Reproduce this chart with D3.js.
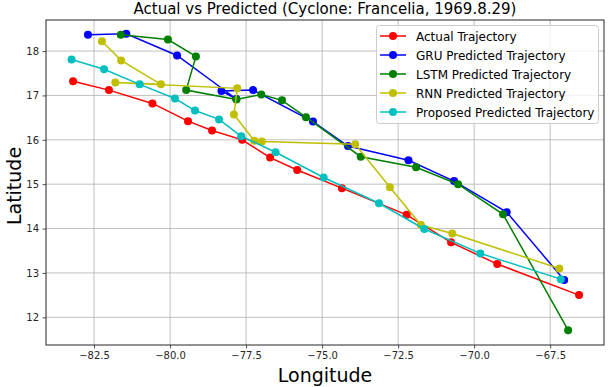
<!DOCTYPE html>
<html><head><meta charset="utf-8">
<script src="https://cdn.jsdelivr.net/npm/d3@7"></script>
<style>body{margin:0;background:#fff;} text{font-family:"DejaVu Sans",sans-serif;}</style>
</head><body><svg id="c" width="609" height="387"></svg>
<script>
const actualLon = [-83.19,-82.01,-80.58,-79.41,-78.62,-77.63,-76.71,-75.82,-74.35,-72.22,-70.76,-69.24,-66.55];
const actualLat = [17.32,17.12,16.82,16.42,16.21,16.00,15.60,15.32,14.91,14.31,13.69,13.20,12.50];
const gruLon = [-82.70,-81.44,-79.77,-77.82,-78.31,-77.27,-75.30,-74.15,-72.16,-70.66,-68.93,-67.04];
const gruLat = [18.37,18.39,17.90,16.92,17.10,17.12,16.41,15.86,15.54,15.07,14.37,12.84];
const lstmLon = [-81.62,-80.07,-79.15,-79.47,-77.82,-77.00,-76.32,-75.53,-73.73,-71.91,-70.53,-69.05,-66.91];
const lstmLat = [18.37,18.26,17.88,17.12,16.91,17.02,16.89,16.51,15.62,15.38,15.00,14.32,11.71];
const rnnLon = [-82.24,-81.61,-80.30,-81.80,-77.79,-77.90,-77.23,-76.98,-73.91,-72.77,-71.75,-70.72,-67.20];
const rnnLat = [18.22,17.79,17.25,17.29,17.16,16.57,15.98,15.96,15.90,14.93,14.08,13.89,13.10];
const propLon = [-83.24,-82.17,-81.00,-79.84,-79.18,-78.39,-77.66,-76.53,-74.95,-73.13,-71.64,-69.80,-67.15];
const propLat = [17.81,17.59,17.25,16.93,16.66,16.46,16.08,15.72,15.15,14.57,13.99,13.44,12.86];
const xTicks = [-82.5,-80.0,-77.5,-75.0,-72.5,-70.0,-67.5];
const yTicks = [12,13,14,15,16,17,18];
const seriesNames = ["Actual Trajectory","GRU Predicted Trajectory","LSTM Predicted Trajectory","RNN Predicted Trajectory","Proposed Predicted Trajectory"];
const colors = ["#ff0000","#0000ff","#008000","#bfbf00","#00bfbf"];
const title = "Actual vs Predicted (Cyclone: Francelia, 1969.8.29)";

const series = [[actualLon,actualLat],[gruLon,gruLat],[lstmLon,lstmLat],[rnnLon,rnnLat],[propLon,propLat]];

const L=46, R=604, T=20, B=345;
const svg = d3.select("#c");
const x = d3.scaleLinear().domain([-84.08,-65.73]).range([L,R]);
const y = d3.scaleLinear().domain([11.376,18.70]).range([B,T]);

// grid
const g = svg.append("g");
g.selectAll(".gx").data(xTicks).join("line").attr("x1",d=>x(d)).attr("x2",d=>x(d)).attr("y1",T).attr("y2",B).attr("stroke","#b0b0b0").attr("stroke-width",0.8);
g.selectAll(".gy").data(yTicks).join("line").attr("y1",d=>y(d)).attr("y2",d=>y(d)).attr("x1",L).attr("x2",R).attr("stroke","#b0b0b0").attr("stroke-width",0.8);

// axes
const fmtX = d => d3.format(".1f")(d).replace("-","\u2212");
const xa = svg.append("g").attr("transform",`translate(0,${B})`).call(d3.axisBottom(x).tickValues(xTicks).tickFormat(fmtX).tickSize(3.5).tickPadding(3.5));
const ya = svg.append("g").attr("transform",`translate(${L},0)`).call(d3.axisLeft(y).tickValues(yTicks).tickFormat(d3.format("d")).tickSize(3.5).tickPadding(3.5));
[xa,ya].forEach(a=>{a.select(".domain").remove(); a.selectAll("text").attr("font-size",10).attr("fill","#262626").attr("font-family","DejaVu Sans"); a.selectAll("line").attr("stroke","#262626").attr("stroke-width",0.8);});

// data
const line = d3.line().x(d=>x(d[0])).y(d=>y(d[1]));
series.forEach((s,i)=>{
  const pts = s[0].map((v,j)=>[v,s[1][j]]);
  svg.append("path").datum(pts).attr("d",line).attr("fill","none").attr("stroke",colors[i]).attr("stroke-width",1.5);
  svg.append("g").selectAll("circle").data(pts).join("circle").attr("cx",d=>x(d[0])).attr("cy",d=>y(d[1])).attr("r",4).attr("fill",colors[i]);
});

// frame
svg.append("rect").attr("x",L).attr("y",T).attr("width",R-L).attr("height",B-T).attr("fill","none").attr("stroke","#262626").attr("stroke-width",1);

// title & labels
svg.append("text").attr("x",(L+R)/2).attr("y",14).attr("text-anchor","middle").attr("font-size",15).attr("fill","#000").text(title);
svg.append("text").attr("x",(L+R)/2).attr("y",382).attr("text-anchor","middle").attr("font-size",19).attr("fill","#000").text("Longitude");
svg.append("text").attr("transform",`translate(21,186) rotate(-90)`).attr("text-anchor","middle").attr("font-size",19).attr("fill","#000").text("Latitude");

// legend
const lg = svg.append("g");
lg.append("rect").attr("x",376.5).attr("y",25.5).attr("width",222).attr("height",98).attr("rx",3).attr("fill","#fff").attr("fill-opacity",0.8).attr("stroke","#cccccc").attr("stroke-width",1);
seriesNames.forEach((n,i)=>{
  const yy = 36 + i*19;
  lg.append("line").attr("x1",380).attr("x2",406).attr("y1",yy).attr("y2",yy).attr("stroke",colors[i]).attr("stroke-width",1.5);
  lg.append("circle").attr("cx",393).attr("cy",yy).attr("r",4).attr("fill",colors[i]);
  lg.append("text").attr("x",416).attr("y",yy+4.5).attr("font-size",12).attr("fill","#000").text(n);
});
</script></body></html>
